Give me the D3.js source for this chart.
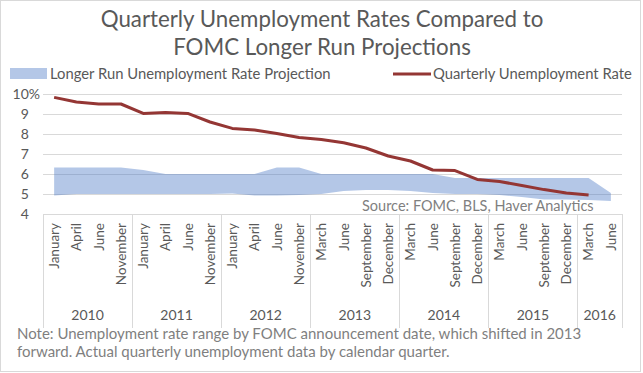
<!DOCTYPE html>
<html>
<head>
<meta charset="utf-8">
<script src="https://cdn.jsdelivr.net/npm/d3@7"></script>
<style>
  body { margin: 0; background: #fff; }
  svg { display: block; font-family: Lato, "Open Sans", sans-serif; }
</style>
</head>
<body>
<div id="vis1"></div>
<script>
// categories (FOMC meeting months) and their year groups
let months = ["January", "April", "June", "November",
  "January", "April", "June", "November",
  "January", "April", "June", "November",
  "March", "June", "September", "December",
  "March", "June", "September", "December",
  "March", "June", "September", "December",
  "March", "June"]
let years = ["2010", "2011", "2012", "2013", "2014", "2015", "2016"]
let yearCounts = [4, 4, 4, 4, 4, 4, 2]

// quarterly unemployment rate (%), no value for the last category
let unemployment = [9.83, 9.6, 9.5, 9.5, 9.03, 9.08, 9.03, 8.6, 8.28, 8.2, 8.03, 7.83,
  7.73, 7.56, 7.3, 6.9, 6.65, 6.2, 6.17, 5.73, 5.62, 5.43, 5.22, 5.05, 4.95]

// FOMC longer run projection range (%)
let projLow = [4.93, 5.0, 5.0, 5.0, 5.0, 5.0, 5.0, 5.0, 5.03, 4.92, 4.92, 4.95,
  5.0, 5.15, 5.2, 5.2, 5.15, 5.05, 5.0, 5.0, 4.95, 4.85, 4.72, 4.72, 4.7, 4.65]
let projHigh = [6.32, 6.32, 6.32, 6.32, 6.2, 6.0, 6.0, 6.0, 6.0, 6.0, 6.32, 6.32,
  6.0, 6.0, 6.0, 6.0, 6.0, 6.0, 5.8, 5.8, 5.8, 5.8, 5.8, 5.8, 5.8, 5.05]

let yTicks = [4, 5, 6, 7, 8, 9, 10]
let yTickLabels = ["4", "5", "6", "7", "8", "9", "10%"]

let W = 643, H = 373
let margin = { top: 94, left: 43, right: 21, bottom: 159 }

let grid = "#d9d9d9", textCol = "#595959", noteCol = "#7f7f7f"
let lineCol = "#943634", bandCol = "#4472c4"

let svg = d3.select('#vis1')
  .append('svg')
  .attr('width', W)
  .attr('height', H)

// outer chart border
svg.append("rect")
  .attr("x", 0.5).attr("y", 0.5)
  .attr("width", 640).attr("height", 371)
  .attr("fill", "#fff")
  .attr("stroke", grid)

// title
let title = svg.append("text")
  .attr("text-anchor", "middle")
  .attr("fill", textCol)
  .style("font-size", "22.3px")
title.append("tspan").attr("x", 322).attr("y", 27).text("Quarterly Unemployment Rates Compared to")
title.append("tspan").attr("x", 322).attr("y", 55).text("FOMC Longer Run Projections")

// legend
svg.append("rect")
  .attr("x", 10).attr("y", 68).attr("width", 37).attr("height", 11)
  .attr("fill", bandCol).attr("fill-opacity", 0.4)
svg.append("text")
  .attr("x", 50).attr("y", 79)
  .attr("fill", textCol)
  .style("font-size", "14.8px")
  .text("Longer Run Unemployment Rate Projection")
svg.append("line")
  .attr("x1", 393).attr("x2", 431).attr("y1", 74).attr("y2", 74)
  .attr("stroke", lineCol).attr("stroke-width", 3)
svg.append("text")
  .attr("x", 433).attr("y", 79)
  .attr("fill", textCol)
  .style("font-size", "14.8px")
  .text("Quarterly Unemployment Rate")

let x = d3.scaleBand()
  .domain(d3.range(months.length))
  .range([margin.left, W - margin.right])

let y = d3.scaleLinear()
  .domain([4, 10])
  .range([H - margin.bottom, margin.top])

let cx = i => x(i) + x.bandwidth() / 2

// horizontal gridlines
svg.append("g")
  .selectAll("line")
  .data(yTicks)
  .enter().append("line")
    .attr("x1", margin.left).attr("x2", W - margin.right)
    .attr("y1", d => Math.round(y(d)) + 0.5)
    .attr("y2", d => Math.round(y(d)) + 0.5)
    .attr("stroke", grid)

// y labels, padded so the digits line up with "10" of "10%"
let yl = svg.append("g")
  .selectAll("text")
  .data(yTicks)
  .enter().append("text")
    .attr("x", 40)
    .attr("y", d => y(d))
    .attr("dy", "0.35em")
    .attr("text-anchor", "end")
    .attr("fill", textCol)
    .style("font-size", "14px")
yl.append("tspan").text((d, i) => yTickLabels[i].replace("%", ""))
yl.append("tspan").text("%")
  .attr("fill-opacity", (d, i) => yTickLabels[i].indexOf("%") >= 0 ? 1 : 0)

// projection range band
let area = d3.area()
  .x((d, i) => cx(i))
  .y0((d, i) => y(projLow[i]))
  .y1((d, i) => y(projHigh[i]))
svg.append("path")
  .datum(projLow)
  .attr("d", area)
  .attr("fill", bandCol)
  .attr("fill-opacity", 0.4)

// unemployment line
svg.append("path")
  .datum(unemployment)
  .attr("fill", "none")
  .attr("stroke", lineCol)
  .attr("stroke-width", 3)
  .attr("stroke-linejoin", "round")
  .attr("d", d3.line()
    .x((d, i) => cx(i))
    .y(d => y(d)))

// month labels
svg.append("g")
  .selectAll("text")
  .data(months)
  .enter().append("text")
    .attr("transform", (d, i) => "translate(" + cx(i) + "," + (y(4) + 9) + ") rotate(-90)")
    .attr("dy", "0.36em")
    .attr("text-anchor", "end")
    .attr("fill", textCol)
    .style("font-size", "13.5px")
    .text(d => d)

// year groups: separators and labels
let starts = [0]
yearCounts.forEach((c, i) => starts.push(starts[i] + c))
let sepX = starts.map(s => s < months.length ? x(s) : x(months.length - 1) + x.bandwidth())
svg.append("g")
  .selectAll("line")
  .data(sepX)
  .enter().append("line")
    .attr("x1", d => Math.round(d) + 0.5).attr("x2", d => Math.round(d) + 0.5)
    .attr("y1", y(4)).attr("y2", y(4) + 114)
    .attr("stroke", grid)
svg.append("g")
  .selectAll("text")
  .data(years)
  .enter().append("text")
    .attr("x", (d, i) => (sepX[i] + sepX[i + 1]) / 2)
    .attr("y", y(4) + 106)
    .attr("text-anchor", "middle")
    .attr("fill", textCol)
    .style("font-size", "14px")
    .text(d => d)

// source and note
svg.append("text")
  .attr("x", 362).attr("y", 211)
  .attr("fill", noteCol)
  .style("font-size", "14.5px")
  .text("Source: FOMC, BLS, Haver Analytics")
let note = svg.append("text")
  .attr("fill", noteCol)
  .style("font-size", "15px")
note.append("tspan").attr("x", 17).attr("y", 339)
  .text("Note: Unemployment rate range by FOMC announcement date, which shifted in 2013")
note.append("tspan").attr("x", 17).attr("y", 357)
  .text("forward. Actual quarterly unemployment data by calendar quarter.")
</script>
</body>
</html>
